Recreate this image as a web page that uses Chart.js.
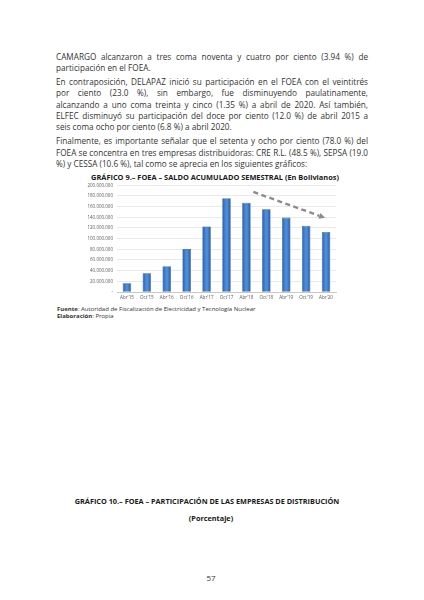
<!DOCTYPE html>
<html>
<head>
<meta charset="utf-8">
<script src="https://cdn.jsdelivr.net/npm/chart.js@4.4.0/dist/chart.umd.min.js"></script>
<style>
    html, body { margin: 0; padding: 0; background: #fff; }
    #page { position: relative; width: 424px; height: 600px; overflow: hidden; background: #fff;
        font-family: "Open Sans", sans-serif; color: #333; }
    .ln { position: absolute; left: 56px; width: 312px; height: 11.35px; line-height: 11.35px;
        font-size: 8.2px; white-space: nowrap; }
    .j { text-align: justify; text-align-last: justify; white-space: normal; }
    .t { position: absolute; font-weight: bold; white-space: nowrap; text-align: center; color: #1a1a1a; }
    .src { position: absolute; left: 57px; font-size: 6px; white-space: nowrap; }
    #wrap { position: absolute; left: 80px; top: 178px; width: 260px; height: 125px; }
</style>
</head>
<body>
<div id="page">
    <div id="text"></div>
    <div class="t" style="left:80px;width:270px;top:172px;font-size:7.4px;line-height:11px;">GRÁFICO 9.– FOEA – SALDO ACUMULADO SEMESTRAL (En Bolivianos)</div>
    <div id="wrap"><canvas id="chart9"></canvas></div>
    <div class="src" style="top:304.5px;"><b>Fuente</b>: Autoridad de Fiscalización de Electricidad y Tecnología Nuclear</div>
    <div class="src" style="top:312px;"><b>Elaboración</b>: Propia</div>
    <div class="t" style="left:57px;width:300px;top:496px;font-size:7.3px;line-height:11px;">GRÁFICO 10.– FOEA – PARTICIPACIÓN DE LAS EMPRESAS DE DISTRIBUCIÓN</div>
    <div class="t" style="left:61px;width:300px;top:512.5px;font-size:7.3px;line-height:11px;">(Porcentaje)</div>
    <div class="t" style="left:180px;width:62px;top:572px;font-size:8px;line-height:11px;font-weight:normal;color:#333;">57</div>
</div>
<script>
// texto de la página: [línea, justificada?, top del párrafo]
const lines = [
    ["CAMARGO alcanzaron a tres coma noventa y cuatro por ciento (3.94 %) de", true, 51],
    ["participación en el FOEA.", false],
    ["En contraposición, DELAPAZ inició su participación en el FOEA con el veintitrés", true, 76],
    ["por ciento (23.0 %), sin embargo, fue disminuyendo paulatinamente,", true],
    ["alcanzando  a uno coma treinta y cinco (1.35 %) a abril de 2020. Así también,", true],
    ["ELFEC disminuyó su participación del doce por ciento (12.0 %) de abril 2015 a", true],
    ["seis coma ocho por ciento (6.8 %) a abril 2020.", false],
    ["Finalmente, es importante señalar que el setenta y ocho por ciento (78.0 %) del", true, 135.3],
    ["FOEA se concentra en tres empresas distribuidoras: CRE R.L. (48.5 %), SEPSA (19.0", true],
    ["%) y CESSA (10.6 %), tal como se aprecia en los siguientes gráficos:", false]
];

// Gráfico 9 - datos
const periodos = ["Abr'15","Oct'15","Abr'16","Oct'16","Abr'17","Oct'17","Abr'18","Oct'18","Abr'19","Oct'19","Abr'20"];
const saldo = [16300000, 35000000, 48500000, 80500000, 123000000, 175800000, 167500000, 155000000, 139500000, 124000000, 112500000];
const yTicks = [0, 20000000, 40000000, 60000000, 80000000, 100000000, 120000000, 140000000, 160000000, 180000000, 200000000];
// flecha de tendencia: [índice de categoría, valor]
const trendStart = [6.35, 187500000];
const trendEnd = [9.95, 139000000];

let yPos = 0;
const textDiv = document.getElementById("text");
lines.forEach(function(l){
    if(l[2] !== undefined) yPos = l[2];
    let d = document.createElement("div");
    d.className = "ln" + (l[1] ? " j" : "");
    d.style.top = yPos + "px";
    d.textContent = l[0];
    textDiv.appendChild(d);
    yPos += 11.35;
});

function puntos(v){
    if(v === 0) return "-";
    return String(v).replace(/\B(?=(\d{3})+(?!\d))/g, ".");
}

const trendArrow = {
    id: "trendArrow",
    afterDatasetsDraw(chart){
        const xs = chart.scales.x, ys = chart.scales.y, c = chart.ctx;
        let x1 = xs.getPixelForValue(trendStart[0]), y1 = ys.getPixelForValue(trendStart[1]);
        let x2 = xs.getPixelForValue(trendEnd[0]), y2 = ys.getPixelForValue(trendEnd[1]);
        let a = Math.atan2(y2 - y1, x2 - x1);
        let hl = 6;
        c.save();
        c.strokeStyle = "#8c8c8c";
        c.lineWidth = 2.4;
        c.setLineDash([5, 3.5]);
        c.beginPath();
        c.moveTo(x1, y1);
        c.lineTo(x2 - hl * Math.cos(a), y2 - hl * Math.sin(a));
        c.stroke();
        c.setLineDash([]);
        c.fillStyle = "#8c8c8c";
        c.beginPath();
        c.moveTo(x2, y2);
        c.lineTo(x2 - hl * Math.cos(a) + 3 * Math.sin(a), y2 - hl * Math.sin(a) - 3 * Math.cos(a));
        c.lineTo(x2 - hl * Math.cos(a) - 3 * Math.sin(a), y2 - hl * Math.sin(a) + 3 * Math.cos(a));
        c.closePath();
        c.fill();
        c.restore();
    }
};

const barPct = 0.43;
function barFill(ctx){
    const chart = ctx.chart, xs = chart.scales.x;
    if(!xs || !chart.chartArea) return "#3b78cc";
    let cx = xs.getPixelForValue(ctx.dataIndex);
    let w = xs.width / periodos.length * barPct;
    let g = chart.ctx.createLinearGradient(cx - w / 2, 0, cx + w / 2, 0);
    g.addColorStop(0, "#2a5ca8");
    g.addColorStop(0.45, "#4d8fdc");
    g.addColorStop(0.6, "#4a8ad6");
    g.addColorStop(1, "#2757a0");
    return g;
}

new Chart(document.getElementById("chart9"), {
    type: "bar",
    data: {
        labels: periodos,
        datasets: [{
            data: saldo,
            backgroundColor: barFill,
            borderColor: "#2a5aa0",
            borderWidth: 0.6,
            barPercentage: barPct,
            categoryPercentage: 1
        }]
    },
    options: {
        responsive: true,
        maintainAspectRatio: false,
        animation: false,
        layout: { padding: { top: 7.3, right: 4, left: 0, bottom: 0 } },
        plugins: { legend: { display: false }, tooltip: { enabled: false }, title: { display: false } },
        scales: {
            x: {
                grid: { display: false, drawTicks: false },
                border: { color: "#bfbfbf", width: 0.8 },
                ticks: { color: "#595959", font: { size: 4.6, family: "Open Sans" }, padding: 2.5, maxRotation: 0, autoSkip: false },
                afterFit(s){ s.height = 11; }
            },
            y: {
                min: 0, max: 200000000,
                afterBuildTicks(s){ s.ticks = yTicks.map(v => ({ value: v })); },
                grid: { color: "#e0e0e0", lineWidth: 0.7, drawTicks: false },
                border: { display: false },
                ticks: { color: "#595959", font: { size: 4.5, family: "Open Sans" }, padding: 4, callback: puntos },
                afterFit(s){ s.width = 37; }
            }
        }
    },
    plugins: [trendArrow]
});
</script>
</body>
</html>
